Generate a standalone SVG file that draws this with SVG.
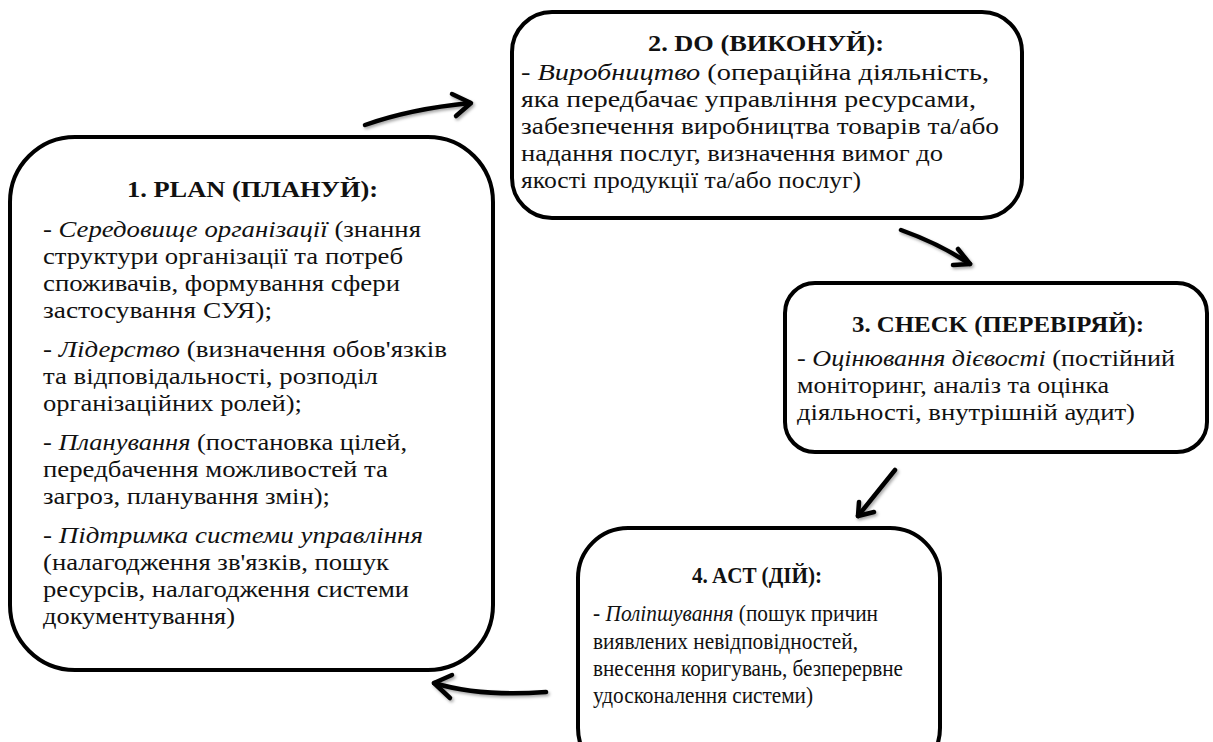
<svg xmlns="http://www.w3.org/2000/svg" width="1213" height="742" viewBox="0 0 1213 742">
<defs>
<filter id="sh" x="-20%" y="-20%" width="140%" height="140%">
<feDropShadow dx="1.5" dy="2" stdDeviation="1.5" flood-color="#000" flood-opacity="0.35"/>
</filter>
</defs>
<rect width="1213" height="742" fill="#fff"/>
<g id="connectors" filter="url(#sh)" fill="none" stroke="#000" stroke-width="4.5" stroke-linecap="round" stroke-linejoin="round">
<path d="M365,125 Q410,109 470,103"/>
<path d="M452,94 L471,103 L456,116"/>
<path d="M901,230 Q940,244 970,264"/>
<path d="M958,249 L970,264 L953,265"/>
<path d="M895,470 L858,516"/>
<path d="M859,502 L858,516 L874,512"/>
<path d="M546,692 Q480,697 434,683"/>
<path d="M452,675 L434,683 L450,698"/>
</g>
<g id="node1" font-family="Liberation Serif" font-size="24" fill="#111">
<rect x="10" y="137" width="483" height="533" rx="65" fill="#fff" stroke="#000" stroke-width="4"/>
<text x="127" y="197" font-family="Liberation Serif" font-weight="bold" textLength="251" lengthAdjust="spacingAndGlyphs">1. PLAN (ПЛАНУЙ):</text>
<text x="43" y="237" font-family="Liberation Serif" textLength="378" lengthAdjust="spacingAndGlyphs">- <tspan font-style="italic">Середовище організації</tspan> (знання</text>
<text x="43" y="264" font-family="Liberation Serif" textLength="360" lengthAdjust="spacingAndGlyphs">структури  організації та потреб</text>
<text x="43" y="291" font-family="Liberation Serif" textLength="357" lengthAdjust="spacingAndGlyphs">споживачів, формування сфери</text>
<text x="43" y="318" font-family="Liberation Serif" textLength="229" lengthAdjust="spacingAndGlyphs">застосування  СУЯ);</text>
<text x="43" y="357" font-family="Liberation Serif" textLength="404" lengthAdjust="spacingAndGlyphs">- <tspan font-style="italic">Лідерство</tspan> (визначення обов'язків</text>
<text x="43" y="384" font-family="Liberation Serif" textLength="335" lengthAdjust="spacingAndGlyphs">та відповідальності, розподіл</text>
<text x="43" y="411" font-family="Liberation Serif" textLength="259" lengthAdjust="spacingAndGlyphs">організаційних ролей);</text>
<text x="43" y="450" font-family="Liberation Serif" textLength="364" lengthAdjust="spacingAndGlyphs">- <tspan font-style="italic">Планування</tspan> (постановка цілей,</text>
<text x="43" y="477" font-family="Liberation Serif" textLength="345" lengthAdjust="spacingAndGlyphs">передбачення можливостей та</text>
<text x="43" y="504" font-family="Liberation Serif" textLength="287" lengthAdjust="spacingAndGlyphs">загроз, планування  змін);</text>
<text x="43" y="543" font-family="Liberation Serif" textLength="380" lengthAdjust="spacingAndGlyphs">- <tspan font-style="italic">Підтримка системи управління</tspan></text>
<text x="43" y="570" font-family="Liberation Serif" textLength="346" lengthAdjust="spacingAndGlyphs">(налагодження зв'язків, пошук</text>
<text x="43" y="597" font-family="Liberation Serif" textLength="366" lengthAdjust="spacingAndGlyphs">ресурсів,  налагодження системи</text>
<text x="43" y="624" font-family="Liberation Serif" textLength="192" lengthAdjust="spacingAndGlyphs">документування)</text>
</g>
<g id="node2" font-family="Liberation Serif" font-size="24" fill="#111">
<rect x="512" y="12" width="510" height="206" rx="40" fill="#fff" stroke="#000" stroke-width="4"/>
<text x="648" y="51" font-family="Liberation Serif" font-weight="bold" textLength="236" lengthAdjust="spacingAndGlyphs">2. DO (ВИКОНУЙ):</text>
<text x="521" y="80" font-family="Liberation Serif" textLength="468" lengthAdjust="spacingAndGlyphs">- <tspan font-style="italic">Виробництво</tspan> (операційна діяльність,</text>
<text x="521" y="107" font-family="Liberation Serif" textLength="455" lengthAdjust="spacingAndGlyphs">яка передбачає управління ресурсами,</text>
<text x="521" y="134" font-family="Liberation Serif" textLength="478" lengthAdjust="spacingAndGlyphs">забезпечення виробництва товарів та/або</text>
<text x="521" y="161" font-family="Liberation Serif" textLength="422" lengthAdjust="spacingAndGlyphs">надання послуг, визначення вимог до</text>
<text x="521" y="188" font-family="Liberation Serif" textLength="340" lengthAdjust="spacingAndGlyphs">якості продукції та/або послуг)</text>
</g>
<g id="node3" font-family="Liberation Serif" font-size="24" fill="#111">
<rect x="785" y="283" width="422" height="169" rx="30" fill="#fff" stroke="#000" stroke-width="4"/>
<text x="852" y="332" font-family="Liberation Serif" font-weight="bold" textLength="292" lengthAdjust="spacingAndGlyphs">3. CHECK (ПЕРЕВІРЯЙ):</text>
<text x="797" y="366" font-family="Liberation Serif" textLength="378" lengthAdjust="spacingAndGlyphs">- <tspan font-style="italic">Оцінювання дієвості</tspan> (постійний</text>
<text x="797" y="393" font-family="Liberation Serif" textLength="312" lengthAdjust="spacingAndGlyphs">моніторинг, аналіз та оцінка</text>
<text x="797" y="420" font-family="Liberation Serif" textLength="338" lengthAdjust="spacingAndGlyphs">діяльності, внутрішній аудит)</text>
</g>
<g id="node4" font-family="Liberation Serif" font-size="24" fill="#111">
<rect x="578" y="528" width="362" height="250" rx="50" fill="#fff" stroke="#000" stroke-width="4"/>
<text x="692" y="583" font-family="Liberation Serif" font-weight="bold" textLength="130" lengthAdjust="spacingAndGlyphs">4. ACT (ДІЙ):</text>
<text x="593" y="621" font-family="Liberation Serif" textLength="285" lengthAdjust="spacingAndGlyphs">- <tspan font-style="italic">Поліпшування</tspan> (пошук причин</text>
<text x="593" y="649" font-family="Liberation Serif" textLength="265" lengthAdjust="spacingAndGlyphs">виявлених невідповідностей,</text>
<text x="593" y="676" font-family="Liberation Serif" textLength="310" lengthAdjust="spacingAndGlyphs">внесення коригувань, безперервне</text>
<text x="593" y="703" font-family="Liberation Serif" textLength="220" lengthAdjust="spacingAndGlyphs">удосконалення системи)</text>
</g>
</svg>
